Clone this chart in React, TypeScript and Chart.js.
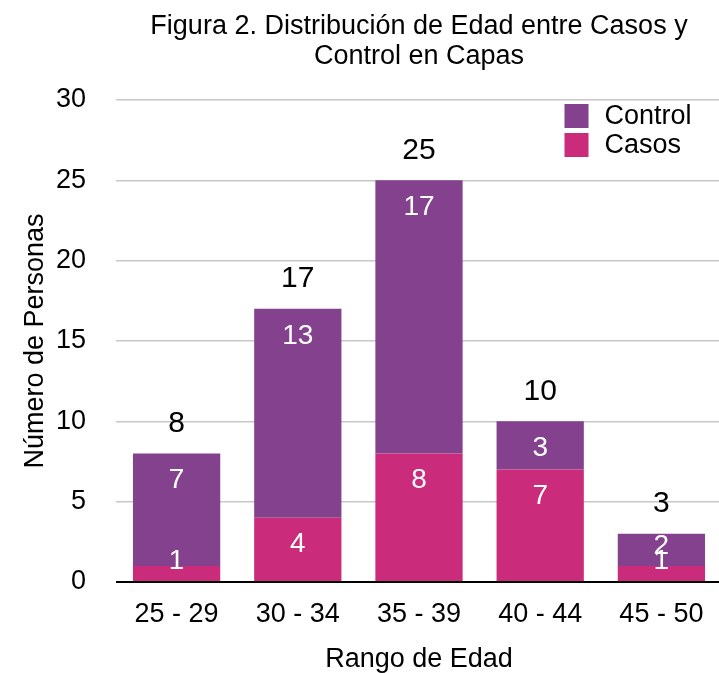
import React, { useEffect, useRef } from "react";
import { Chart, registerables } from "chart.js";

Chart.register(...registerables);

const FONT = '"Liberation Sans", Arial, Helvetica, sans-serif';

const titleLines = ["Figura 2. Distribución de Edad entre Casos y", "Control en Capas"];
const categories = ["25 - 29", "30 - 34", "35 - 39", "40 - 44", "45 - 50"];
const casos = [1, 4, 8, 7, 1];
const control = [7, 13, 17, 3, 2];
const yMin = 0;
const yMax = 30;
const yStep = 5;
const xAxisTitle = "Rango de Edad";
const yAxisTitle = "Número de Personas";

const PURPLE = "rgb(132, 66, 142)";
const PINK = "rgb(202, 43, 122)";

// Draws the title, the value labels inside each segment, the stack totals and the legend.
const annotations = {
  id: "annotations",
  afterDatasetsDraw(chart: any) {
    const ctx = chart.ctx as CanvasRenderingContext2D;
    const area = chart.chartArea;
    const yScale = chart.scales.y;
    ctx.save();
    ctx.textAlign = "center";
    ctx.textBaseline = "middle";

    // title, centred over the plot area
    ctx.fillStyle = "#000";
    ctx.font = `27px ${FONT}`;
    const cx = (area.left + area.right) / 2;
    titleLines.forEach((line, i) => ctx.fillText(line, cx, 27 + i * 30));

    // segment values
    ctx.font = `28px ${FONT}`;
    ctx.fillStyle = "#fff";
    chart.data.datasets.forEach((ds: any, di: number) => {
      const meta = chart.getDatasetMeta(di);
      meta.data.forEach((el: any, i: number) => {
        const top = Math.min(el.y, el.base);
        const bottom = Math.max(el.y, el.base);
        const y = Math.min(top + 27, bottom - 20);
        ctx.fillText(String(ds.data[i]), el.x, y);
      });
    });

    // stack totals
    ctx.fillStyle = "#000";
    ctx.font = `30px ${FONT}`;
    const lastMeta = chart.getDatasetMeta(chart.data.datasets.length - 1);
    lastMeta.data.forEach((el: any, i: number) => {
      const total = casos[i] + control[i];
      ctx.fillText(String(total), el.x, yScale.getPixelForValue(total) - 30);
    });

    // legend (Control above Casos)
    const legendItems = [
      { label: "Control", color: PURPLE },
      { label: "Casos", color: PINK },
    ];
    const lx = area.right - 157.5;
    ctx.font = `27px ${FONT}`;
    ctx.textAlign = "left";
    legendItems.forEach((item, i) => {
      const ly = area.top + 4 + i * 29;
      ctx.fillStyle = item.color;
      ctx.fillRect(lx, ly, 24, 24);
      ctx.fillStyle = "#000";
      ctx.fillText(item.label, lx + 40, ly + 13);
    });

    ctx.restore();
  },
};

export default function App() {
  const canvasRef = useRef<HTMLCanvasElement | null>(null);

  useEffect(() => {
    if (!canvasRef.current) return;
    const chart = new Chart(canvasRef.current, {
      type: "bar",
      data: {
        labels: categories,
        datasets: [
          { label: "Casos", data: casos, backgroundColor: PINK, borderWidth: 0 },
          { label: "Control", data: control, backgroundColor: PURPLE, borderWidth: 0 },
        ],
      },
      options: {
        responsive: false,
        animation: false,
        layout: { padding: { top: 100, right: 0, bottom: 0, left: 0 } },
        datasets: { bar: { categoryPercentage: 1, barPercentage: 0.72 } },
        plugins: { legend: { display: false }, tooltip: { enabled: false }, title: { display: false } },
        scales: {
          x: {
            stacked: true,
            grid: { display: false },
            border: { display: false },
            ticks: { color: "#000", font: { family: FONT, size: 27 }, padding: 8 },
            title: {
              display: true,
              text: xAxisTitle,
              color: "#000",
              font: { family: FONT, size: 27 },
              padding: { top: 0, bottom: -3 },
            },
            afterFit: (s: any) => {
              s.height = 91;
            },
          },
          y: {
            stacked: true,
            min: yMin,
            max: yMax,
            ticks: { stepSize: yStep, color: "#000", font: { family: FONT, size: 27 }, padding: 30 },
            grid: {
              drawTicks: false,
              color: (c: any) => (c.tick && c.tick.value === 0 ? "#000" : "#c8c8c8"),
              lineWidth: (c: any) => (c.tick && c.tick.value === 0 ? 2 : 1.5),
            },
            border: { display: false },
            title: {
              display: true,
              text: yAxisTitle,
              color: "#000",
              font: { family: FONT, size: 27 },
              padding: { top: 19, bottom: 0 },
            },
            afterFit: (s: any) => {
              s.width = 116;
            },
          },
        },
      },
      plugins: [annotations],
    });
    return () => chart.destroy();
  }, []);

  return (
    <div
      style={{
        position: "fixed",
        left: 0,
        top: 0,
        width: 719,
        height: 673,
        overflow: "hidden",
        background: "#fff",
      }}
    >
      <canvas ref={canvasRef} width={722} height={673} style={{ display: "block" }} />
    </div>
  );
}
